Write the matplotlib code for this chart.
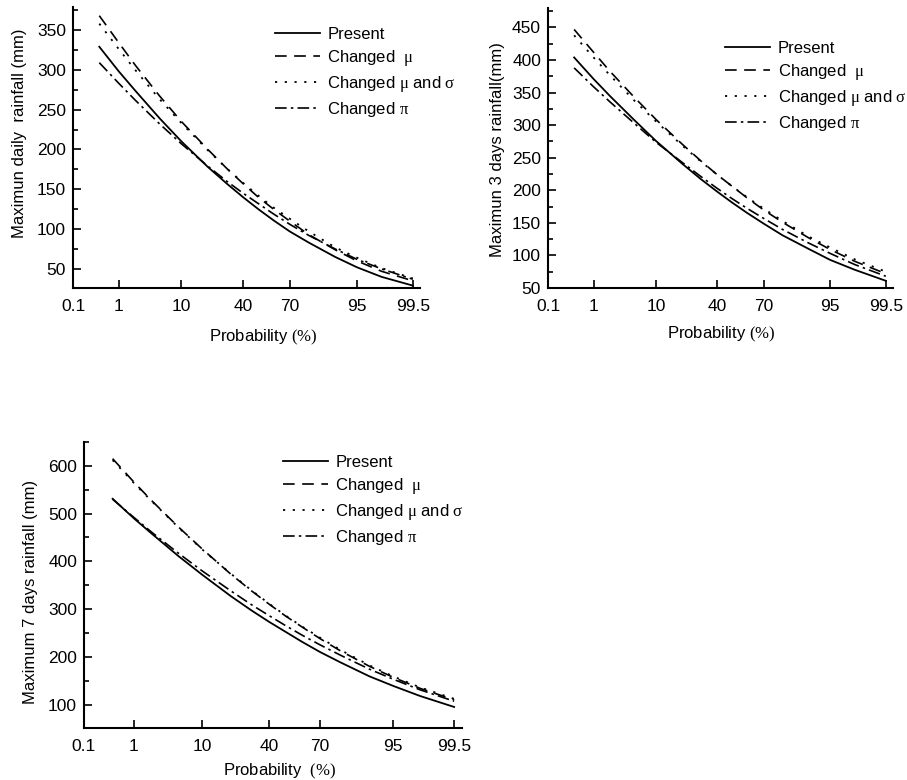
import numpy as np
import matplotlib
matplotlib.use("Agg")
import matplotlib.pyplot as plt
from matplotlib.ticker import MultipleLocator, NullLocator
from statistics import NormalDist

plt.rcParams['font.family'] = 'Liberation Sans'
plt.rcParams['mathtext.fontset'] = 'custom'
plt.rcParams['mathtext.rm'] = 'Liberation Serif'
plt.rcParams['mathtext.it'] = 'Liberation Serif'

# probability (%) where the curves are read
probs = [0.4, 1, 2, 5, 10, 20, 30, 40, 50, 60, 70, 80, 90, 95, 98, 99.5]
xticks = [0.1, 1, 10, 40, 70, 95, 99.5]
xtick_labels = ['0.1', '1', '10', '40', '70', '95', '99.5']

labels = ['Present', r'Changed  $\mu$', r'Changed $\mu$ and $\sigma$', r'Changed $\pi$']

# maximum daily rainfall (mm)
present_1 = [329, 298, 274, 239, 210, 178, 157, 140, 125, 111, 97, 83, 65, 52, 40, 29]
mu_1 = [368, 334, 306, 267, 235, 200, 176, 157, 140, 125, 110, 93, 74, 60, 47, 35]
musig_1 = [358, 326, 300, 263, 233, 199, 176, 158, 142, 127, 113, 97, 77, 64, 51, 38]
pi_1 = [309, 283, 262, 232, 207, 179, 160, 145, 132, 119, 106, 92, 75, 62, 50, 37]

# maximum 3 days rainfall (mm)
present_2 = [404, 371, 345, 308, 276, 241, 217, 198, 181, 165, 149, 131, 110, 93, 78, 61]
mu_2 = [447, 412, 383, 343, 309, 271, 245, 224, 206, 188, 170, 151, 127, 109, 91, 72]
musig_2 = [438, 404, 377, 338, 306, 269, 244, 224, 206, 189, 172, 153, 129, 112, 94, 75]
pi_2 = [388, 359, 336, 303, 274, 243, 221, 203, 187, 172, 157, 140, 119, 103, 86, 68]

# maximum 7 days rainfall (mm)
present_3 = [531, 490, 458, 411, 372, 327, 297, 273, 252, 231, 210, 188, 159, 139, 118, 95]
mu_3 = [615, 566, 527, 472, 426, 373, 338, 310, 285, 262, 238, 212, 180, 157, 134, 110]
musig_3 = [612, 564, 526, 471, 425, 374, 339, 311, 286, 263, 240, 214, 182, 159, 136, 112]
pi_3 = [530, 492, 461, 417, 380, 338, 309, 286, 265, 245, 225, 203, 174, 153, 131, 107]

_nd = NormalDist()
_ppf = np.vectorize(_nd.inv_cdf, otypes=[float])
_cdf = np.vectorize(_nd.cdf, otypes=[float])


def prob_fwd(p):
    p = np.clip(np.asarray(p, dtype=float) / 100.0, 1e-9, 1 - 1e-9)
    return _ppf(p)


def prob_inv(z):
    return 100.0 * _cdf(np.asarray(z, dtype=float))


styles = [
    dict(linestyle='-', lw=1.3),
    dict(linestyle=(0, (7, 4.5)), lw=1.2),
    dict(linestyle=(0, (1.2, 4.2)), lw=1.3),
    dict(linestyle=(0, (7, 2.5, 1.5, 2.5)), lw=1.2),
]


def panel(rect, series, ylim, ymajor, ylabel, xlabel, ylab_xy, xlab_xy, leg_xy):
    ax = fig.add_axes(rect)
    ax.set_xscale('function', functions=(prob_fwd, prob_inv))
    for vals, lab, st in zip(series, labels, styles):
        ax.plot(probs, vals, color='black', label=lab, **st)
    ax.set_xlim(0.1, 99.65)
    ax.set_ylim(*ylim)
    ax.set_xticks(xticks)
    ax.set_xticklabels(xtick_labels)
    ax.xaxis.set_minor_locator(NullLocator())
    ax.yaxis.set_major_locator(MultipleLocator(ymajor))
    ax.yaxis.set_minor_locator(MultipleLocator(ymajor / 2))
    for s in ['top', 'right']:
        ax.spines[s].set_visible(False)
    for s in ['left', 'bottom']:
        ax.spines[s].set_linewidth(1.5)
    ax.tick_params(which='both', direction='in', labelsize=12.5, width=1.2)
    ax.tick_params(which='major', length=6)
    ax.tick_params(which='minor', length=3.5)
    ax.tick_params(axis='x', pad=8)
    ax.tick_params(axis='y', pad=5)
    ax.set_ylabel(ylabel, fontsize=12)
    ax.set_xlabel(xlabel, fontsize=12)
    ax.yaxis.set_label_coords(*ylab_xy)
    ax.xaxis.set_label_coords(*xlab_xy)
    ax.legend(loc='upper left', bbox_to_anchor=leg_xy, frameon=False, fontsize=12,
              handlelength=2.7, handletextpad=0.45, labelspacing=0.36,
              borderpad=0, borderaxespad=0)
    return ax


fig = plt.figure(figsize=(9.07, 7.8), dpi=100)

panel([0.0805, 0.6308, 0.3826, 0.3603], [present_1, mu_1, musig_1, pi_1],
      (26, 379), 50, 'Maximun daily  rainfall (mm)', r'Probability $\mathrm{(\%)}$',
      (-0.133, 0.552), (0.548, -0.142), (0.582, 0.929))

panel([0.6042, 0.6308, 0.3804, 0.359], [present_2, mu_2, musig_2, pi_2],
      (50, 480), 50, 'Maximun 3 days rainfall(mm)', r'Probability $\mathrm{(\%)}$',
      (-0.125, 0.493), (0.501, -0.132), (0.513, 0.882))

panel([0.0926, 0.0667, 0.4168, 0.3667], [present_3, mu_3, musig_3, pi_3],
      (51, 650), 100, 'Maximum 7 days rainfall (mm)', r'Probability  $\mathrm{(\%)}$',
      (-0.122, 0.476), (0.518, -0.118), (0.526, 0.955))

fig.savefig('out.png', dpi=100)
